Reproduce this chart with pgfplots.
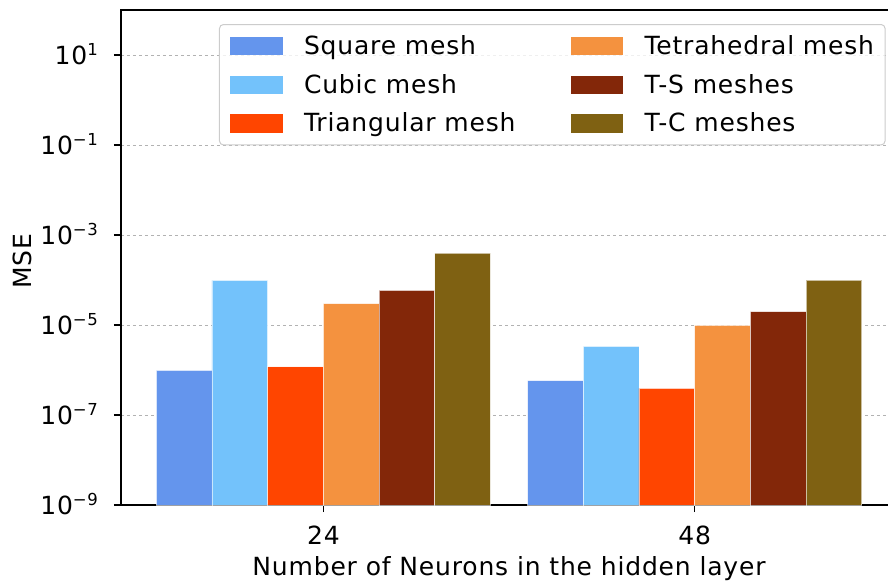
\documentclass[border=0pt]{standalone}
\usepackage{fontspec}
\setmainfont{DejaVu Sans}[LetterSpace=3.3]
\usepackage{pgfplots}
\pgfplotsset{compat=1.18}
\usetikzlibrary{calc}
\definecolor{csq}{HTML}{6495ED}
\definecolor{ccu}{HTML}{73C2FB}
\definecolor{ctr}{HTML}{FF4500}
\definecolor{cte}{HTML}{F4923F}
\definecolor{cts}{HTML}{832709}
\definecolor{ctc}{HTML}{7F6112}
\newcommand\pw[1]{10\raisebox{8.3pt}{\fontsize{16.5}{16.5}\selectfont #1}}
\newcommand\lt[1]{\raisebox{0pt}[18.25pt][0pt]{#1}}
\pgfplotsset{
  mybar/.style={fill=#1, draw=white, draw opacity=0.6, line width=0.7pt,
    legend image code/.code={\fill[fill=#1, draw=none, sharp corners, fill opacity=1] (0pt,-9.15pt) rectangle (52pt,9.15pt);}}
}
\begin{document}
\begin{tikzpicture}[font=\fontsize{25}{30}\selectfont]
\begin{axis}[
  at={(0,0)}, anchor=south west, name=ax,
  scale only axis, width=776pt, height=495pt,
  xmin=-0.545, xmax=1.545,
  ymode=log, ymin=1e-9, ymax=1e2, log origin=infty,
  ybar=0pt, bar width=55.7pt,
  xtick={0,1}, xticklabels={24,48},
  ytick={1e-9,1e-7,1e-5,1e-3,1e-1,1e1},
  yticklabels={\pw{−9},\pw{−7},\pw{−5},\pw{−3},\pw{−1},\pw{1}},
  minor y tick style={draw=none},
  xtick pos=left, ytick pos=left,
  tick align=outside, major tick length=7pt,
  tick style={black, line width=1.2pt},
  axis line style={line width=1.5pt},
  ymajorgrids, grid style={dashed, black!30, line width=0.8pt},
  yticklabel style={anchor=base east, inner sep=0pt, xshift=-16pt, yshift=-9.1pt},
  xticklabel style={anchor=base, inner sep=0pt, yshift=-32pt},
  xlabel={Number of Neurons in the hidden layer},
  ylabel={MSE},
  every axis x label/.style={at={(rel axis cs:0.5,0)}, anchor=base, yshift=-70pt},
  every axis y label/.style={at={($(rel axis cs:0,0.5)+(-89pt,-4pt)$)}, rotate=90, anchor=base},
  legend columns=2,
  legend cell align=left,
  legend style={at={(rel axis cs:0,1)}, anchor=north west, xshift=98pt, yshift=-14pt,
    draw=black!20, line width=1pt, rounded corners=4pt, fill=white, fill opacity=0.8,
    text opacity=1, draw opacity=1, inner xsep=11pt, inner ysep=11.5pt, row sep=19.1pt,
    nodes={inner sep=0pt},
    /tikz/every odd column/.append style={column sep=21.5pt},
    /tikz/every even column/.append style={column sep=55.5pt}},
]
\addplot[mybar=csq, forget plot, bar shift=-139.25pt] coordinates {(0,9.8e-7) (1,5.8e-7)};
\addplot[mybar=ccu, forget plot, bar shift=-83.55pt] coordinates {(0,9.8e-5) (1,3.34e-6)};
\addplot[mybar=ctr, forget plot, bar shift=-27.85pt] coordinates {(0,1.18e-6) (1,3.9e-7)};
\addplot[mybar=cte, forget plot, bar shift=27.85pt] coordinates {(0,2.97e-5) (1,9.8e-6)};
\addplot[mybar=cts, forget plot, bar shift=83.55pt] coordinates {(0,5.87e-5) (1,1.98e-5)};
\addplot[mybar=ctc, forget plot, bar shift=139.25pt] coordinates {(0,3.98e-4) (1,1.0e-4)};
\addlegendimage{mybar=csq}\addlegendentry{\lt{Square mesh}}
\addlegendimage{mybar=cte}\addlegendentry{\lt{Tetrahedral mesh}}
\addlegendimage{mybar=ccu}\addlegendentry{\lt{Cubic mesh}}
\addlegendimage{mybar=cts}\addlegendentry{\lt{T-S meshes}}
\addlegendimage{mybar=ctr}\addlegendentry{\lt{Triangular mesh}}
\addlegendimage{mybar=ctc}\addlegendentry{\lt{T-C meshes}}
\end{axis}
\pgfresetboundingbox
\path[use as bounding box] (-121pt,-77pt) rectangle (767pt,505pt);
\end{tikzpicture}
\end{document}
